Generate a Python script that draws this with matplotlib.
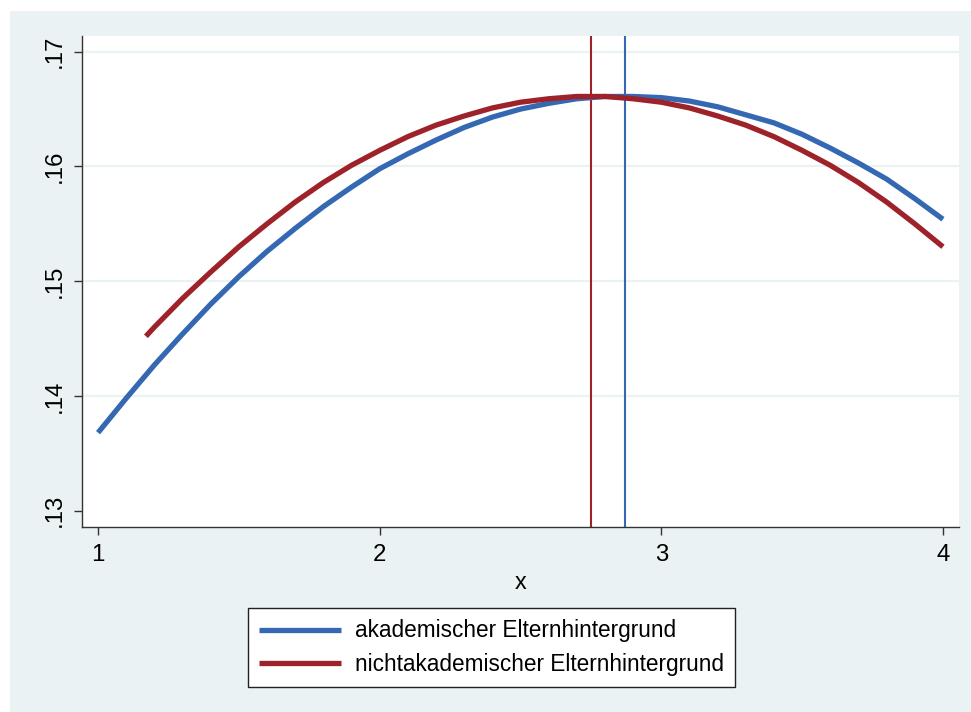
# Predicted curves for two groups with their maxima marked
# (values read off the reference figure).

import matplotlib.pyplot as plt
from matplotlib.patches import Rectangle

plt.rcParams['font.family'] = ['Liberation Sans', 'DejaVu Sans']
plt.rcParams['font.size'] = 16.3

# akademischer Elternhintergrund
x_aka = [1.0, 1.1, 1.2, 1.3, 1.4, 1.5, 1.6, 1.7, 1.8, 1.9, 2.0, 2.1, 2.2, 2.3, 2.4, 2.5,
         2.6, 2.7, 2.8, 2.9, 3.0, 3.1, 3.2, 3.3, 3.4, 3.5, 3.6, 3.7, 3.8, 3.9, 4.0]
y_aka = [.1368, .1398, .1427, .1454, .1480, .1504, .1526, .1546, .1565, .1582, .1598,
         .1611, .1623, .1634, .1643, .1650, .1655, .1659, .1661, .1661, .1660, .1657,
         .1652, .1645, .1638, .1628, .1616, .1603, .1589, .1572, .1554]

# nichtakademischer Elternhintergrund
x_nak = [1.17, 1.2, 1.3, 1.4, 1.5, 1.6, 1.7, 1.8, 1.9, 2.0, 2.1, 2.2, 2.3, 2.4, 2.5, 2.6,
         2.7, 2.8, 2.9, 3.0, 3.1, 3.2, 3.3, 3.4, 3.5, 3.6, 3.7, 3.8, 3.9, 4.0]
y_nak = [.1452, .1460, .1485, .1508, .1530, .1550, .1569, .1586, .1601, .1614, .1626,
         .1636, .1644, .1651, .1656, .1659, .1661, .1661, .1659, .1656, .1651, .1644,
         .1636, .1626, .1614, .1601, .1586, .1569, .1550, .1530]

# Position of the maxima
max_aka = 2.87
max_nak = 2.75

labels = ["akademischer Elternhintergrund", "nichtakademischer Elternhintergrund"]
xticks = [1, 2, 3, 4]
yticks = [.13, .14, .15, .16, .17]
yticklabels = [".13", ".14", ".15", ".16", ".17"]

blue = "#3568B2"
red = "#9E2229"
bg = "#EAF2F3"

fig = plt.figure(figsize=(9.71, 7.12), dpi=100, facecolor="white")
# Stata-like background, offset from the top-left corner
fig.patches.append(Rectangle((10 / 971, 0), 1, 1 - 11 / 712,
                             transform=fig.transFigure, facecolor=bg,
                             edgecolor="none", zorder=-10))

ax = fig.add_axes([82 / 971, 185 / 712, 877 / 971, 491 / 712])
ax.set_facecolor("white")

for yv in yticks[1:]:
    ax.axhline(yv, color=bg, lw=1.6, zorder=0)

ax.plot(x_aka, y_aka, color=blue, lw=3.8, label=labels[0], solid_capstyle="butt",
        solid_joinstyle="round", zorder=3)
ax.plot(x_nak, y_nak, color=red, lw=3.8, label=labels[1], solid_capstyle="butt",
        solid_joinstyle="round", zorder=4)
ax.axvline(max_nak, color=red, lw=1.5, zorder=2)
ax.axvline(max_aka, color=blue, lw=1.5, zorder=2)

ax.set_xlim(0.943, 4.057)
ax.set_ylim(0.12858, 0.17137)
ax.set_xticks(xticks)
ax.set_yticks(yticks)
ax.set_yticklabels(yticklabels, rotation=90, va="center")
ax.set_xlabel("x", labelpad=4, fontsize=16.8)

for s in ["top", "right"]:
    ax.spines[s].set_visible(False)
for s in ["left", "bottom"]:
    ax.spines[s].set_color("#333333")
    ax.spines[s].set_linewidth(1.0)
ax.tick_params(length=6, width=1.0, color="#333333", pad=6, labelsize=17.3)

leg = fig.legend(loc="lower left", bbox_to_anchor=(248 / 971, 25 / 712),
                 borderaxespad=0, fancybox=False, edgecolor="#222222",
                 framealpha=1, handlelength=3.6, handletextpad=0.62,
                 labelspacing=0.45, borderpad=0.5)
leg.get_frame().set_linewidth(1.0)

plt.savefig("out.png", dpi=100, facecolor=fig.get_facecolor())
